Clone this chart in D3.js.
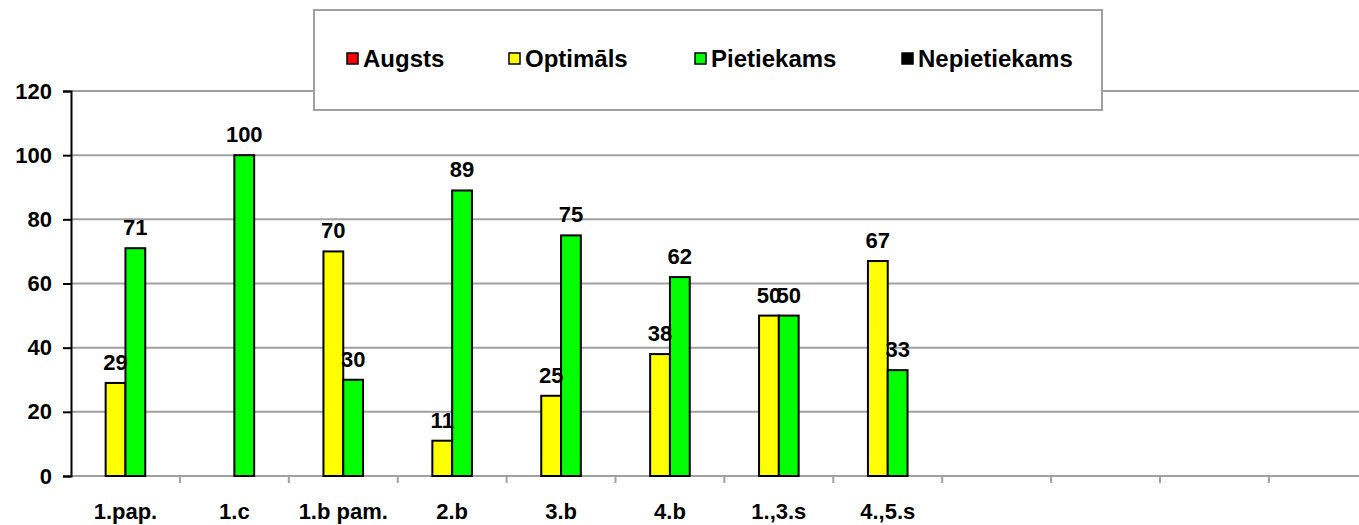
<!DOCTYPE html>
<html>
<head>
<meta charset="utf-8">
<script src="https://cdn.jsdelivr.net/npm/d3@7.9.0/dist/d3.min.js"></script>
<style>
  body { margin: 0; background: #fff; }
  svg text { font-family: Arial, "Liberation Sans", sans-serif; font-weight: bold; fill: #000; }
</style>
</head>
<body>
<svg id="chart" width="1359" height="525"></svg>
<script>
// ===== data =====
const categories = ['1.pap.', '1.c', '1.b pam.', '2.b', '3.b', '4.b', '1.,3.s', '4.,5.s', '', '', '', ''];
const seriesNames = ['Augsts', 'Optimāls', 'Pietiekams', 'Nepietiekams'];
const seriesColors = ['#ff0000', '#ffff00', '#00ff00', '#000000'];
const augsts       = [0, 0, 0, 0, 0, 0, 0, 0];
const optimals     = [29, 0, 70, 11, 25, 38, 50, 67];
const pietiekams   = [71, 100, 30, 89, 75, 62, 50, 33];
const nepietiekams = [0, 0, 0, 0, 0, 0, 0, 0];
const yTicks = [0, 20, 40, 60, 80, 100, 120];

const seriesValues = [augsts, optimals, pietiekams, nepietiekams];

// ===== layout =====
const plotLeft = 71, plotTop = 91, plotBottom = 476;
const catW = 108.9;
const svg = d3.select('#chart');

const x = d3.scaleBand()
  .domain(d3.range(categories.length))
  .range([plotLeft, plotLeft + catW * categories.length])
  .padding(0);

const xInner = d3.scaleBand()
  .domain(d3.range(seriesNames.length))
  .range([0, x.bandwidth()])
  .paddingInner(0)
  .paddingOuter(0.75);

const y = d3.scaleLinear().domain([0, 120]).range([plotBottom, plotTop]);

// gridlines
svg.append('g')
  .selectAll('line')
  .data(yTicks.filter(d => d > 0))
  .join('line')
    .attr('x1', plotLeft).attr('x2', 1359)
    .attr('y1', d => y(d)).attr('y2', d => y(d))
    .attr('stroke', '#a0a0a0')
    .attr('stroke-width', 2);

// x axis (gray)
const xAxis = svg.append('g').attr('transform', `translate(0,${plotBottom})`);
xAxis.append('line')
  .attr('x1', plotLeft).attr('x2', 1359)
  .attr('stroke', '#a0a0a0').attr('stroke-width', 2);
xAxis.selectAll('line.tick')
  .data(d3.range(1, categories.length))
  .join('line')
    .attr('class', 'tick')
    .attr('x1', d => x(d)).attr('x2', d => x(d))
    .attr('y1', 0).attr('y2', 7)
    .attr('stroke', '#a0a0a0').attr('stroke-width', 2);
xAxis.selectAll('text')
  .data(categories.map((c, i) => ({ c, i })).filter(d => d.c))
  .join('text')
    .attr('x', d => x(d.i) + x.bandwidth() / 2)
    .attr('y', 43)
    .attr('text-anchor', 'middle')
    .attr('font-size', 22)
    .text(d => d.c);

// y axis (black)
const yAxis = d3.axisLeft(y).tickValues(yTicks).tickSize(8).tickPadding(11);
const yg = svg.append('g').attr('transform', `translate(${plotLeft},0)`).call(yAxis);
yg.select('.domain').attr('stroke', '#000').attr('stroke-width', 2);
yg.selectAll('.tick line').attr('stroke', '#000').attr('stroke-width', 2);
yg.selectAll('.tick text')
  .attr('font-size', 22)
  .attr('font-family', 'Arial, "Liberation Sans", sans-serif')
  .attr('font-weight', 'bold')
  .attr('fill', '#000');

// bars
const bars = [];
seriesValues.forEach((vals, s) => {
  vals.forEach((v, i) => { if (v > 0) bars.push({ s, i, v }); });
});

svg.append('g')
  .selectAll('rect')
  .data(bars)
  .join('rect')
    .attr('x', d => x(d.i) + xInner(d.s))
    .attr('y', d => y(d.v))
    .attr('width', xInner.bandwidth())
    .attr('height', d => plotBottom - y(d.v))
    .attr('fill', d => seriesColors[d.s])
    .attr('stroke', '#000')
    .attr('stroke-width', 2);

svg.append('g')
  .selectAll('text')
  .data(bars)
  .join('text')
    .attr('x', d => x(d.i) + xInner(d.s) + xInner.bandwidth() / 2)
    .attr('y', d => y(d.v) - 13)
    .attr('text-anchor', 'middle')
    .attr('font-size', 22)
    .text(d => d.v);

// legend
const lg = svg.append('g');
lg.append('rect')
  .attr('x', 314).attr('y', 10)
  .attr('width', 788).attr('height', 100)
  .attr('fill', '#fff')
  .attr('stroke', '#a0a0a0')
  .attr('stroke-width', 2);

const legendX = [347, 509, 695, 902];
const items = lg.selectAll('g.item')
  .data(seriesNames)
  .join('g')
    .attr('class', 'item')
    .attr('transform', (d, i) => `translate(${legendX[i]},53)`);
items.append('rect')
  .attr('width', 11).attr('height', 11)
  .attr('fill', (d, i) => seriesColors[i])
  .attr('stroke', '#000')
  .attr('stroke-width', 1.5);
items.append('text')
  .attr('x', 16).attr('y', 14)
  .attr('font-size', 24)
  .text(d => d);
</script>
</body>
</html>
